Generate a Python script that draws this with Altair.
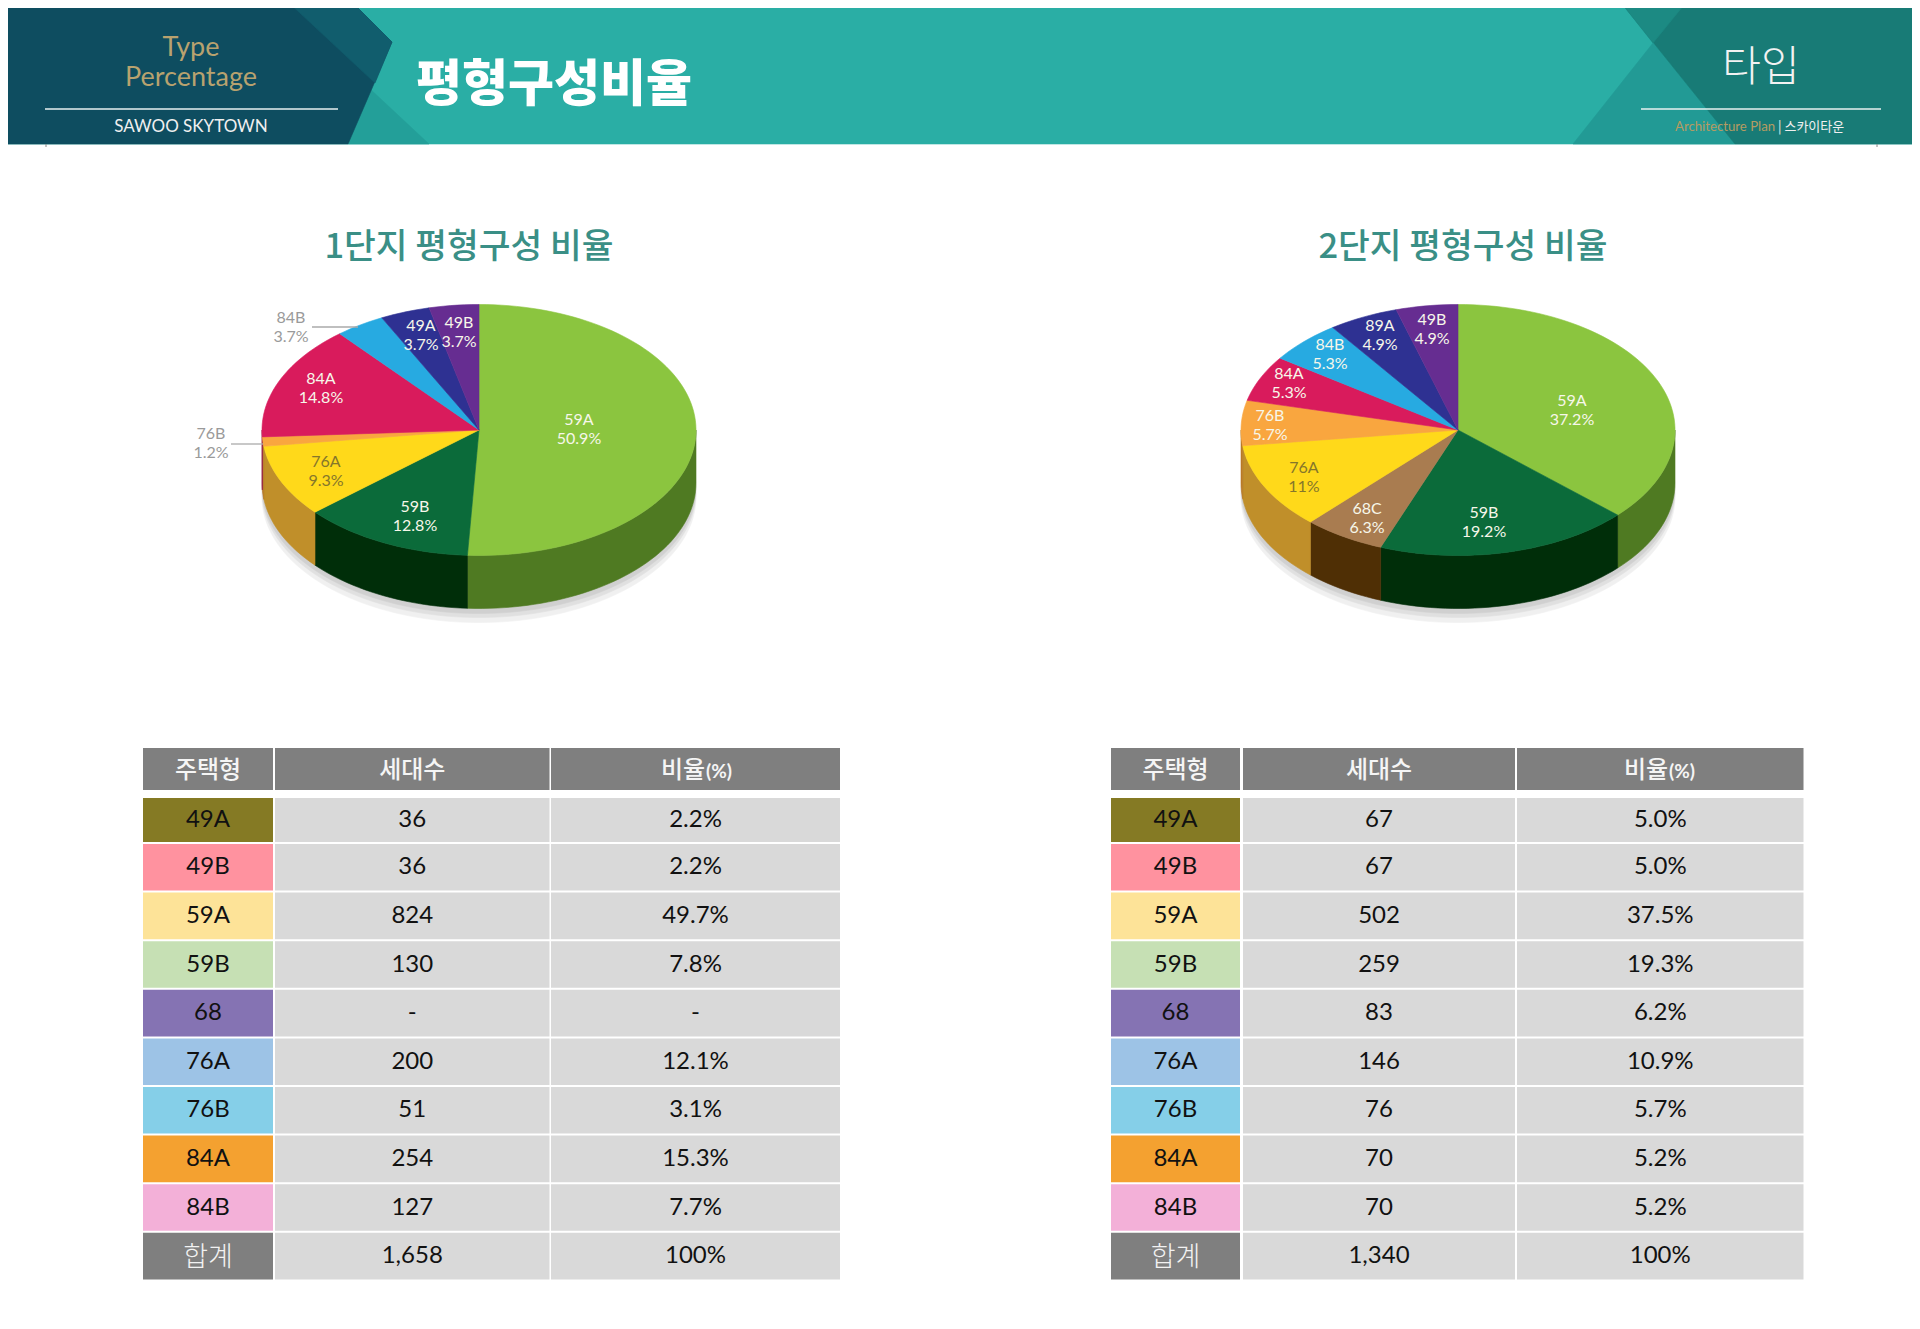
import math
import altair as alt
import pandas as pd

# ---------- data ----------
types1 = ["59A", "59B", "76A", "76B", "84A", "84B", "49A", "49B"]
share1 = [50.9, 12.8, 9.3, 1.2, 14.8, 3.7, 3.7, 3.7]
labels1 = ["50.9%", "12.8%", "9.3%", "1.2%", "14.8%", "3.7%", "3.7%", "3.7%"]
types2 = ["59A", "59B", "68C", "76A", "76B", "84A", "84B", "89A", "49B"]
# slice sizes as measured on the drawn pie (the printed labels differ slightly)
share2 = [36.85, 18.95, 6.1, 11.1, 5.8, 5.9, 5.5, 5.2, 4.6]
labels2 = ["37.2%", "19.2%", "6.3%", "11%", "5.7%", "5.3%", "5.3%", "4.9%", "4.9%"]

row_types = ["49A", "49B", "59A", "59B", "68", "76A", "76B", "84A", "84B", "합계"]
units1 = ["36", "36", "824", "130", "-", "200", "51", "254", "127", "1,658"]
ratio1 = ["2.2%", "2.2%", "49.7%", "7.8%", "-", "12.1%", "3.1%", "15.3%", "7.7%", "100%"]
units2 = ["67", "67", "502", "259", "83", "146", "76", "70", "70", "1,340"]
ratio2 = ["5.0%", "5.0%", "37.5%", "19.3%", "6.2%", "10.9%", "5.7%", "5.2%", "5.2%", "100%"]
headers = ["주택형", "세대수"]

# ---------- styles ----------
TOP = {"59A": "#8bc53f", "59B": "#0b6b3a", "68C": "#a97c50", "76A": "#ffd91a", "76B": "#f9a63f",
       "84A": "#d91b5c", "84B": "#27aae1", "89A": "#2e3192", "49A": "#2e3192", "49B": "#662d91"}
WALL = {"59A": "#4f7a22", "59B": "#002e09", "68C": "#4f2f05", "76A": "#c08f2a", "76B": "#b97a25",
        "84A": "#8f1040", "84B": "#1a7aa5", "89A": "#1c1f66", "49A": "#1c1f66", "49B": "#44205f"}
ROWC = ["#857a24", "#ff929f", "#fde398", "#c6e0b4", "#8573b3", "#9dc3e6", "#85cfe8", "#f4a130", "#f3b0d8", "#7f7f7f"]
KR = "Noto Sans CJK KR"
LAT = "Lato, Noto Sans CJK KR"

X = alt.Scale(domain=[8, 1912], range=[0, 1904], nice=False, zero=False)
Y = alt.Scale(domain=[1321, 8], range=[1313, 0], nice=False, zero=False)
xe = alt.X("x:Q", scale=X, axis=None)
ye = alt.Y("y:Q", scale=Y, axis=None)

polys = []
def poly(pid, color, pts, opacity=1.0):
    pts = list(pts) + [pts[0]]
    for i, (x, y) in enumerate(pts):
        polys.append({"pid": pid, "c": color, "i": i, "x": x, "y": y, "o": opacity})

# header
poly("a0", "#2aaea5", [(0, 0), (1920, 0), (1920, 144), (0, 144)])
poly("a1", "#239f99", [(369, 88), (429, 144), (348, 144)])
poly("a2", "#0e4d60", [(0, 0), (350, 0), (392, 42), (348, 144), (0, 144)])
poly("a3", "#115d6d", [(286, 0), (350, 0), (392, 42), (375, 83)])
poly("a4", "#229a95", [(1573, 144), (1653, 43), (1735, 144)])
poly("a5", "#187b76", [(1619, 0), (1920, 0), (1920, 144), (1735, 144)])
poly("a6", "#1c8a83", [(1619, 0), (1688, 0), (1653, 43)])

RX, RY, CY, DEPTH = 217, 125.5, 430, 53

def ell(cx, a, dy=0):
    return (cx + RX * math.sin(a), CY + dy - RY * math.cos(a))

def arcpts(cx, a0, a1, dy=0):
    n = max(2, int(abs(a1 - a0) / math.radians(2)) + 1)
    return [ell(cx, a0 + (a1 - a0) * k / n, dy) for k in range(n + 1)]

def pie(prefix, cx, types, share):
    for k, (o, d) in enumerate([(0.10, 14), (0.12, 9), (0.14, 5)]):
        poly(f"{prefix}s{k}", "#777777", arcpts(cx, 0, 2 * math.pi, DEPTH + d)[:-1], o)
    tot = sum(share)
    a = 0
    for i, (t, s) in enumerate(zip(types, share)):
        b = a + 2 * math.pi * s / tot
        lo, hi = max(a, math.pi / 2), min(b, 3 * math.pi / 2)
        if hi > lo:
            poly(f"{prefix}w{i:02d}", WALL[t], arcpts(cx, lo, hi) + arcpts(cx, hi, lo, DEPTH))
        a = b
    a = 0
    for i, (t, s) in enumerate(zip(types, share)):
        b = a + 2 * math.pi * s / tot
        poly(f"{prefix}t{i:02d}", TOP[t], [(cx, CY)] + arcpts(cx, a, b))
        a = b

pie("p", 479, types1, share1)
pie("q", 1458, types2, share2)

pdf = pd.DataFrame(polys)
poly_layer = alt.Chart(pdf).mark_line(strokeWidth=0.6, interpolate="linear").encode(
    x=xe, y=ye,
    order="i:Q",
    detail="pid:N",
    fill=alt.Fill("c:N", scale=None),
    stroke=alt.Stroke("c:N", scale=None),
    opacity=alt.Opacity("o:Q", scale=None),
)

# tables
rects, cells = [], []
def table(cols, types, units, ratio):
    y_head = (748, 790)
    for (x0, x1) in cols:
        rects.append(dict(x=x0, x2=x1, y=y_head[0], y2=y_head[1], c="#7f7f7f"))
    for r in range(10):
        top = 798 if r == 0 else 844 + 48.6 * (r - 1)
        bot = 842 if r == 0 else top + 46.6
        mid = (top + bot) / 2
        for j, (x0, x1) in enumerate(cols):
            rects.append(dict(x=x0, x2=x1, y=top, y2=bot, c=ROWC[r] if j == 0 else "#d9d9d9"))
        if r < 9:
            cells.append(dict(x=sum(cols[0]) / 2, y=mid, t=types[r]))
        cells.append(dict(x=sum(cols[1]) / 2, y=mid, t=units[r]))
        cells.append(dict(x=sum(cols[2]) / 2, y=mid, t=ratio[r]))

T1 = [(143, 273), (275, 549.5), (551, 840)]
T2 = [(1111, 1240), (1243, 1515), (1517, 1803.5)]
table(T1, row_types, units1, ratio1)
table(T2, row_types, units2, ratio2)

rect_layer = alt.Chart(pd.DataFrame(rects)).mark_rect().encode(
    x=xe, x2="x2:Q", y=ye, y2="y2:Q", fill=alt.Fill("c:N", scale=None))

def txt(rows, size, color="#000000", weight=400, font=LAT, **kw):
    return alt.Chart(pd.DataFrame(rows)).mark_text(
        fontSize=size, color=color, fontWeight=weight, font=font, baseline="middle", **kw
    ).encode(x=xe, y=ye, text="t:N")

def R(x, y, t):
    return dict(x=x, y=y, t=t)

layers = [poly_layer, rect_layer]

# header text
layers += [
    txt([R(191, 47.5, "Type")], 27, "#b8a26f"),
    txt([R(191, 78, "Percentage")], 27, "#b8a26f"),
    txt([R(191, 126.5, "SAWOO SKYTOWN")], 17, "#f0f0f0"),
    txt([R(416, 86, "평형구성비율")], 50, "#ffffff", 800, KR, align="left"),
    txt([R(1761, 68, "타입")], 42, "#f2f2f2", 300, KR),
    txt([R(1675, 126.5, "Architecture Plan")], 13.2, "#b59b62", align="left"),
    txt([R(1778, 126.5, "| 스카이타운")], 13, "#f0f0f0", 400, KR, align="left"),
    txt([R(469, 247.5, "1단지 평형구성 비율")], 34.5, "#3a8f86", 500, KR),
    txt([R(1463, 247.5, "2단지 평형구성 비율")], 34.5, "#3a8f86", 500, KR),
]

# rules
rules = [dict(x=45, x2=338, y=109, c="#e8f0f0"), dict(x=1641, x2=1881, y=109, c="#e8f0f0"),
         dict(x=312, x2=358, y=327, c="#aaaaaa"), dict(x=231, x2=263, y=444, c="#aaaaaa")]
layers.append(alt.Chart(pd.DataFrame(rules)).mark_rule(strokeWidth=1.3).encode(
    x=xe, x2="x2:Q", y=ye, color=alt.Color("c:N", scale=None)))
ticks = [dict(x=46, y=144, y2=147), dict(x=1877, y=144, y2=147)]
layers.append(alt.Chart(pd.DataFrame(ticks)).mark_rule(strokeWidth=1, color="#888888").encode(
    x=xe, y=ye, y2="y2:Q"))

# pie labels
def pl(x, y, t, v):
    return R(x, y, f"{t}\n{v}")
lab1 = dict(zip(types1, labels1))
lab2 = dict(zip(types2, labels2))
white = [pl(579, 429, "59A", lab1["59A"]), pl(415, 516, "59B", lab1["59B"]), pl(321, 388, "84A", lab1["84A"]),
         pl(421, 335, "49A", lab1["49A"]), pl(459, 332, "49B", lab1["49B"]),
         pl(1572, 410, "59A", lab2["59A"]), pl(1484, 522, "59B", lab2["59B"]), pl(1367, 518, "68C", lab2["68C"]),
         pl(1289, 383, "84A", lab2["84A"]), pl(1330, 354, "84B", lab2["84B"]), pl(1380, 335, "89A", lab2["89A"]),
         pl(1432, 329, "49B", lab2["49B"]), pl(1270, 425, "76B", lab2["76B"])]
olive = [pl(326, 471, "76A", lab1["76A"]), pl(1304, 477, "76A", lab2["76A"])]
gray = [pl(291, 327, "84B", lab1["84B"]), pl(211, 443, "76B", lab1["76B"])]
layers += [
    txt(white, 16, "#f7f7ea", lineBreak="\n", lineHeight=19, dy=-9.5),
    txt(olive, 16, "#85762b", lineBreak="\n", lineHeight=19, dy=-9.5),
    txt(gray, 16, "#9a9a9a", lineBreak="\n", lineHeight=19, dy=-9.5),
]

# table text
layers += [
    txt(cells, 24, "#111111"),
    txt([R(sum(T1[0]) / 2, 1258, row_types[9]), R(sum(T2[0]) / 2, 1258, row_types[9])], 27, "#f2f2f2", 300, KR),
    txt([R(sum(T[i]) / 2, 770.5, headers[i]) for T in (T1, T2) for i in (0, 1)], 24, "#f5f5f5", 500, KR),
    txt([R(683, 770.5, "비율"), R(1646, 770.5, "비율")], 24, "#f5f5f5", 500, KR),
    txt([R(719, 772, "(%)"), R(1682, 772, "(%)")], 19, "#f5f5f5", 700),
]

chart = alt.layer(*layers).properties(
    width=1904, height=1313, padding=0, autosize=alt.AutoSizeParams(type="none"), background="#ffffff"
).configure_view(stroke=None)

chart.save("out.html", embed_options={"renderer": "svg", "actions": False})
